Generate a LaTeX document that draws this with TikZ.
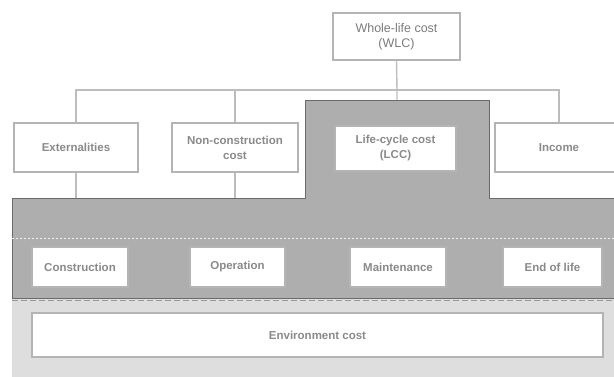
\documentclass[tikz,border=0pt]{standalone}
\usepackage{fontspec}
\setmainfont{Liberation Sans}
\definecolor{boxline}{HTML}{B4B4B4}
\definecolor{linkline}{HTML}{BDBDBD}
\definecolor{lccfill}{HTML}{AEAEAE}
\definecolor{lccedge}{HTML}{6A6A6A}
\definecolor{envfill}{HTML}{DEDEDE}
\definecolor{labeltext}{HTML}{7C7C7C}
\definecolor{stagetext}{HTML}{8A8A8A}
\tikzset{
  costbox/.style={draw=boxline, line width=1.4pt, fill=white, align=center,
    text=labeltext, font=\fontsize{12.5}{15}\selectfont, inner sep=0pt},
  stagebox/.style={costbox, text=stagetext, font=\fontsize{11.5}{15}\selectfont\bfseries},
  link/.style={draw=linkline, line width=1.4pt},
}
\begin{document}
\begin{tikzpicture}[x=1pt,y=-1pt]
\useasboundingbox (0,0) rectangle (614,376);
\begin{scope}
\clip (0,0) rectangle (614,376);
% environment band
\fill[envfill] (12,298) rectangle (620,380);
% life-cycle cost area: column under LCC plus the wide band
\filldraw[fill=lccfill, draw=lccedge, line width=1pt]
  (305,100) -- (489,100) -- (489,198) -- (620,198) -- (620,298)
  -- (12,298) -- (12,198) -- (305,198) -- cycle;
\draw[white!80!lccfill, line width=1pt, dash pattern=on 2pt off 2pt] (12,238) -- (620,238);
\draw[lccedge!70, line width=0.8pt, dash pattern=on 6pt off 3pt] (12,300) -- (620,300);

% top level
\node[costbox, minimum width=127pt, minimum height=47pt] (wlc) at (396.5,36.5) {Whole-life cost\\(WLC)};
% second level
\node[stagebox, minimum width=124pt, minimum height=49pt] (ext) at (76,147.5) {Externalities};
\node[stagebox, minimum width=126pt, minimum height=49pt] (ncc) at (235,147.5) {Non-construction\\cost};
\node[stagebox, minimum width=121pt, minimum height=45pt] (lcc) at (395.5,148.5) {Life-cycle cost\\(LCC)};
\node[stagebox, minimum width=128pt, minimum height=49pt] (inc) at (559,147.5) {Income};
% life-cycle stages
\node[stagebox, minimum width=96pt, minimum height=40pt] (con) at (80,267) {Construction};
\node[stagebox, minimum width=95pt, minimum height=40pt] (ope) at (237.5,267) {Operation};
\node[stagebox, minimum width=96pt, minimum height=40pt] (mai) at (398,267) {Maintenance};
\node[stagebox, minimum width=99pt, minimum height=40pt] (eol) at (552.5,267) {End of life};
% environment
\node[stagebox, minimum width=571pt, minimum height=44pt] (env) at (317.5,335) {Environment cost};

% connectors
\coordinate (bus) at (397,90);
\coordinate (lcctop) at (397,100);
\coordinate (busL) at (ext.north |- bus);
\coordinate (busR) at (inc.north |- bus);
\coordinate (extfoot) at (ext.south |- 0,198);
\coordinate (nccfoot) at (ncc.south |- 0,198);
\draw[link] (wlc.south) -- (bus) -- (lcctop);
\draw[link] (ext.north) -- (busL) -- (busR) -- (inc.north);
\draw[link] (ncc.north) -- (ncc.north |- bus);
\draw[link] (ext.south) -- (extfoot);
\draw[link] (ncc.south) -- (nccfoot);
\end{scope}
\end{tikzpicture}
\end{document}
